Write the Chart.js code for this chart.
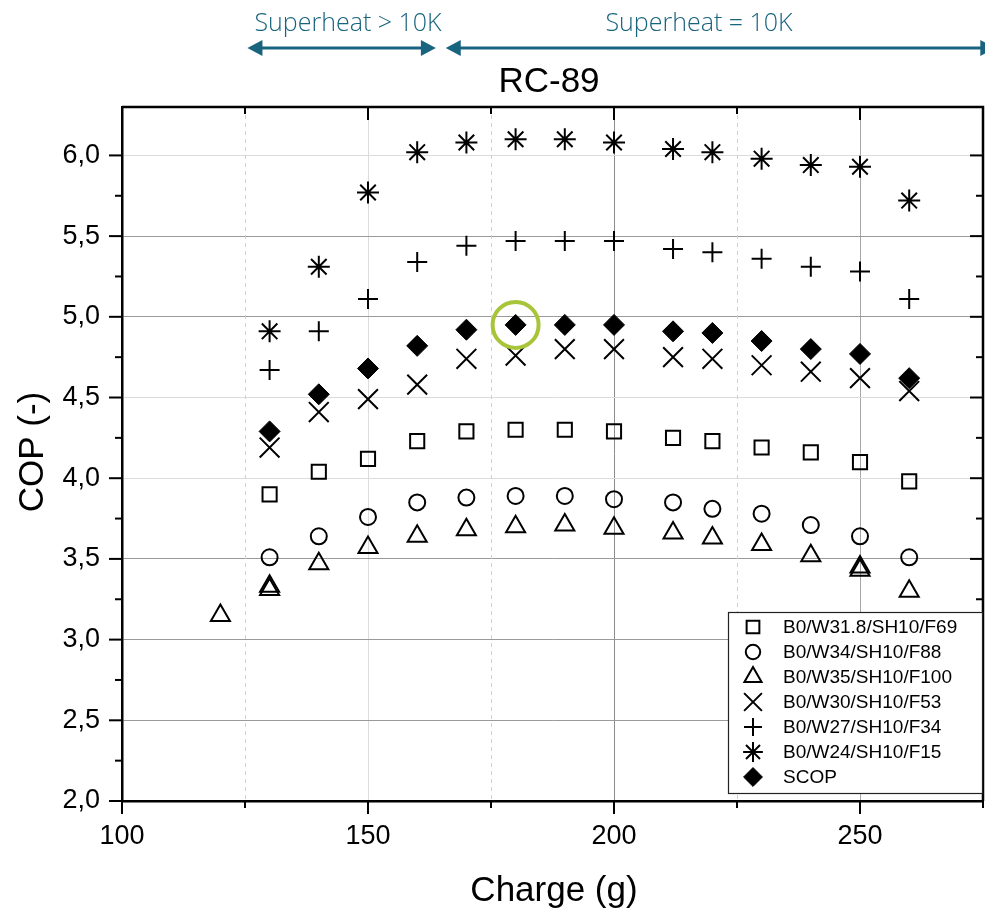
<!DOCTYPE html>
<html><head><meta charset="utf-8">
<script src="https://cdn.jsdelivr.net/npm/chart.js@4/dist/chart.umd.min.js"></script>
<style>html,body{margin:0;padding:0;background:#fff;overflow:hidden}</style>
</head><body>
<canvas id="c" width="985" height="910"></canvas>
<script>
// ---------- data ----------
const chartTitle = 'RC-89';
const xTitle = 'Charge (g)';
const yTitle = 'COP (-)';
const charges = [130,140,150,160,170,180,190,200,212,220,230,240,250,260];
const copF69  = [3.90,4.04,4.12,4.23,4.29,4.30,4.30,4.29,4.25,4.23,4.19,4.16,4.10,3.98];
const copF88  = [3.51,3.64,3.76,3.85,3.88,3.89,3.89,3.87,3.85,3.81,3.78,3.71,3.64,3.51];
const chargesF100 = [120,130,130,140,150,160,170,180,190,200,212,220,230,240,250,250,260];
const copF100 = [3.15,3.31,3.33,3.47,3.57,3.64,3.68,3.70,3.71,3.69,3.66,3.63,3.59,3.52,3.43,3.45,3.30];
const copF53  = [4.19,4.41,4.49,4.58,4.74,4.76,4.80,4.80,4.75,4.74,4.70,4.66,4.62,4.54];
const copF34  = [4.67,4.91,5.11,5.34,5.44,5.47,5.47,5.47,5.42,5.40,5.36,5.31,5.28,5.11];
const copF15  = [4.91,5.31,5.77,6.02,6.08,6.10,6.10,6.08,6.04,6.02,5.98,5.94,5.93,5.72];
const copSCOP = [4.29,4.52,4.68,4.82,4.92,4.95,4.95,4.95,4.91,4.90,4.85,4.80,4.77,4.62];
const highlightX = [180];
const highlightY = [4.95];
const seriesNames = ['B0/W31.8/SH10/F69','B0/W34/SH10/F88','B0/W35/SH10/F100','B0/W30/SH10/F53','B0/W27/SH10/F34','B0/W24/SH10/F15','SCOP'];
const shLabels = ['Superheat > 10K','Superheat = 10K'];
const shRanges = [[125.5,163.8],[165.8,277.5]];
const xTickLabels = [100,150,200,250];
const yTickLabels = [2.0,2.5,3.0,3.5,4.0,4.5,5.0,5.5,6.0];

// ---------- build ----------
const pts = (xs, ys) => xs.map((x,i)=>({x:x, y:ys[i]}));
const FONT = '"Liberation Sans", Arial, sans-serif';
const styles = [
  {pointStyle:'rect', radius:10, borderWidth:2, fill:false},
  {pointStyle:'circle', radius:8, borderWidth:2, fill:false},
  {pointStyle:'triangle', radius:11, borderWidth:2, fill:false},
  {pointStyle:'crossRot', radius:14, borderWidth:2, fill:false},
  {pointStyle:'cross', radius:10, borderWidth:2, fill:false},
  {pointStyle:'star', radius:11, borderWidth:2, fill:false},
  {pointStyle:'rectRot', radius:10.5, borderWidth:1, fill:true}
];
const seriesData = [pts(charges,copF69), pts(charges,copF88), pts(chargesF100,copF100), pts(charges,copF53), pts(charges,copF34), pts(charges,copF15), pts(charges,copSCOP)];
const datasets = seriesData.map((d,i)=>({
  label: seriesNames[i], data: d,
  pointStyle: styles[i].pointStyle, pointRadius: styles[i].radius, pointHoverRadius: styles[i].radius,
  pointBorderWidth: styles[i].borderWidth, borderColor:'#000',
  backgroundColor: styles[i].fill ? '#000' : 'rgba(0,0,0,0)', showLine:false,
  order: 6 - i
}));
datasets.push({label:'highlight', data: pts(highlightX, highlightY), pointStyle:'circle', pointRadius:23, pointHoverRadius:23,
  pointBorderWidth:4, borderColor:'#a8c53a', backgroundColor:'rgba(0,0,0,0)', showLine:false, order:-1});

const isMajorY = v => Math.abs(v*2 - Math.round(v*2)) < 1e-6;
const isQuarter = v => Math.abs(v*4 - Math.round(v*4)) < 1e-6;
const yGridColor = v => {
  const r = Math.round(v*10)/10;
  if (!isMajorY(v) || r <= 2.0 || r > 6.2) return 'rgba(0,0,0,0)';
  if ([6.0,4.5,4.0].includes(r)) return '#dcdcdc';
  return '#9a9a9a';
};
const xGridColor = v => {
  if (v === 150) return '#dcdcdc';
  if (v === 200) return '#8c8c8c';
  if (v === 250) return '#a6a6a6';
  return 'rgba(0,0,0,0)';
};
const dashedX = [125,175,225];

const TEAL = '#18647f';
function arrowHead(ctx, x, y, dir){
  ctx.beginPath();
  ctx.moveTo(x, y);
  ctx.lineTo(x - dir*15, y - 8);
  ctx.lineTo(x - dir*15, y + 8);
  ctx.closePath();
  ctx.fill();
}

function drawMarker(ctx, st, x, y){
  ctx.save();
  ctx.strokeStyle = '#000';
  ctx.fillStyle = st.fill ? '#000' : 'rgba(0,0,0,0)';
  ctx.lineWidth = st.borderWidth;
  if (Chart.helpers && Chart.helpers.drawPoint) {
    Chart.helpers.drawPoint(ctx, {pointStyle: st.pointStyle, radius: st.radius, borderWidth: st.borderWidth, rotation:0}, x, y);
  }
  ctx.restore();
}

const decor = {
  id:'decor',
  beforeDatasetsDraw(chart){
    const {ctx, chartArea:a, scales:{x}} = chart;
    ctx.save();
    ctx.strokeStyle = '#d0d0d0'; ctx.lineWidth = 1; ctx.setLineDash([4,4]);
    dashedX.forEach(v=>{ const px = Math.round(x.getPixelForValue(v))+0.5; ctx.beginPath(); ctx.moveTo(px,a.top); ctx.lineTo(px,a.bottom); ctx.stroke(); });
    ctx.restore();
  },
  afterDraw(chart){
    const {ctx, chartArea:a, scales:{x,y}} = chart;
    ctx.save();
    // frame top/right
    ctx.strokeStyle = '#000'; ctx.lineWidth = 2.5;
    ctx.beginPath(); ctx.moveTo(a.left, a.top); ctx.lineTo(a.right, a.top); ctx.lineTo(a.right, a.bottom); ctx.stroke();
    // ticks
    ctx.lineWidth = 2;
    y.ticks.forEach(t=>{
      const v = t.value; if (!isQuarter(v) || v > 6.26 || v < 2) return;
      const py = y.getPixelForValue(v); const L = isMajorY(v) ? 13 : 7;
      ctx.beginPath(); ctx.moveTo(a.left, py); ctx.lineTo(a.left - L, py); ctx.stroke();
      ctx.beginPath(); ctx.moveTo(a.right, py); ctx.lineTo(a.right - L, py); ctx.stroke();
    });
    x.ticks.forEach(t=>{
      const v = t.value; const px = x.getPixelForValue(v); const L = (v % 50 === 0) ? 13 : 7;
      ctx.beginPath(); ctx.moveTo(px, a.bottom); ctx.lineTo(px, a.bottom + L); ctx.stroke();
      ctx.beginPath(); ctx.moveTo(px, a.top); ctx.lineTo(px, a.top + L); ctx.stroke();
    });
    // titles
    ctx.fillStyle = '#000';
    ctx.font = '35px ' + FONT; ctx.textAlign = 'center'; ctx.textBaseline = 'alphabetic';
    ctx.fillText(chartTitle, 549, 92);
    ctx.fillText(xTitle, 554, 901);
    ctx.save(); ctx.translate(43, 452); ctx.rotate(-Math.PI/2); ctx.fillText(yTitle, 0, 0); ctx.restore();
    // superheat annotations
    ctx.fillStyle = TEAL; ctx.strokeStyle = TEAL; ctx.lineWidth = 3;
    const ay = 48;
    shRanges.forEach((r,i)=>{
      const x1 = x.getPixelForValue(r[0]), x2 = x.getPixelForValue(r[1]);
      ctx.beginPath(); ctx.moveTo(x1+8, ay); ctx.lineTo(x2-8, ay); ctx.stroke();
      arrowHead(ctx, x1, ay, -1); arrowHead(ctx, x2, ay, 1);
    });
    ctx.font = '300 25px "Open Sans", sans-serif'; ctx.textBaseline = 'alphabetic';
    ctx.fillText(shLabels[0], 348, 31);
    ctx.fillText(shLabels[1], 699, 31);
    // legend
    const lx = 728, ly = 612, lw = 254, lh = 181;
    ctx.fillStyle = '#fff'; ctx.fillRect(lx, ly, lw, lh);
    ctx.strokeStyle = '#222'; ctx.lineWidth = 1.2; ctx.strokeRect(lx+0.5, ly+0.5, lw, lh);
    ctx.font = '19px ' + FONT; ctx.textAlign = 'left'; ctx.textBaseline = 'middle';
    seriesNames.forEach((n,i)=>{
      const ry = 627 + i*25;
      const st = Object.assign({}, styles[i], {radius: styles[i].radius*0.9});
      drawMarker(ctx, st, 753, ry);
      ctx.fillStyle = '#000';
      ctx.fillText(n, 783, ry+1);
    });
    ctx.restore();
  }
};

new Chart(document.getElementById('c'), {
  type:'scatter',
  data:{datasets},
  options:{
    responsive:false, animation:false, devicePixelRatio:1,
    layout:{autoPadding:false, padding:{top:107, right:2, left:0, bottom:0}},
    plugins:{legend:{display:false}, title:{display:false}, tooltip:{enabled:false}},
    scales:{
      x:{type:'linear', min:100, max:275,
        afterFit(s){ s.height = 109; s.paddingLeft = 0; s.paddingRight = 0; },
        ticks:{stepSize:25, autoSkip:false, maxRotation:0, padding:0, color:'#000', font:{family:FONT, size:27},
          callback:(v)=> xTickLabels.includes(v) ? String(v) : ''},
        grid:{drawTicks:true, tickLength:19, tickColor:'rgba(0,0,0,0)', color:(c)=>xGridColor(c.tick.value), lineWidth:1},
        border:{color:'#000', width:2.5}
      },
      y:{type:'linear', min:2, max:6.3,
        afterFit(s){ s.width = 122; s.paddingTop = 0; s.paddingBottom = 0; },
        ticks:{stepSize:0.25, autoSkip:false, padding:0, color:'#000', font:{family:FONT, size:27},
          callback:(v)=> (isMajorY(v) && yTickLabels.some(t=>Math.abs(t-v)<1e-6)) ? v.toFixed(1).replace('.',',') : ''},
        grid:{drawTicks:true, tickLength:22, tickColor:'rgba(0,0,0,0)', color:(c)=>yGridColor(c.tick.value), lineWidth:1},
        border:{color:'#000', width:2.5}
      }
    }
  },
  plugins:[decor]
});
</script>
</body></html>
